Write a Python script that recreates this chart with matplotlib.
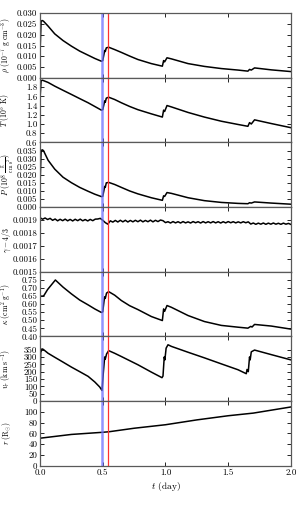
import numpy as np
import matplotlib
matplotlib.use("Agg")
import matplotlib.pyplot as plt
from matplotlib.ticker import FormatStrFormatter

plt.rcParams['font.family'] = 'serif'
plt.rcParams['font.serif'] = ['cmr10', 'DejaVu Serif']
plt.rcParams['mathtext.fontset'] = 'cm'
plt.rcParams['axes.formatter.use_mathtext'] = True
plt.rcParams['font.size'] = 6.4

# ---------------- data ----------------
rho_t = [0.0, 0.008, 0.016, 0.027, 0.064, 0.117, 0.183, 0.25, 0.316, 0.383, 0.436, 0.489,
         0.50, 0.515, 0.52, 0.528, 0.547, 0.595, 0.648, 0.714, 0.78, 0.887, 0.975,
         0.985, 0.993, 1.012, 1.047, 1.18, 1.31, 1.445, 1.578, 1.657, 1.67, 1.684, 1.71,
         1.843, 2.0]
rho = [0.0120, 0.0262, 0.0266, 0.0263, 0.0240, 0.0204, 0.0173, 0.0147, 0.0124, 0.0105, 0.0090, 0.0077,
       0.0080, 0.0127, 0.0122, 0.0139, 0.0142, 0.0131, 0.0118, 0.0101, 0.0085, 0.0066, 0.0054,
       0.0080, 0.0074, 0.0093, 0.0088, 0.0066, 0.0053, 0.0043, 0.0036, 0.0031, 0.0039, 0.0036, 0.0046,
       0.0037, 0.0029]

T_t = rho_t
T = [1.56, 1.93, 1.95, 1.94, 1.90, 1.82, 1.73, 1.64, 1.55, 1.46, 1.38, 1.30,
     1.31, 1.50, 1.47, 1.56, 1.58, 1.53, 1.46, 1.38, 1.31, 1.22, 1.15,
     1.30, 1.27, 1.40, 1.37, 1.25, 1.15, 1.06, 0.99, 0.95, 1.03, 1.00, 1.09,
     1.01, 0.92]

P_t = rho_t
P = [0.0141, 0.0340, 0.0355, 0.0350, 0.0290, 0.0235, 0.0185, 0.0151, 0.0122, 0.0098, 0.0080, 0.0065,
     0.0067, 0.0128, 0.0122, 0.0150, 0.0153, 0.0140, 0.0122, 0.0100, 0.0082, 0.0058, 0.0042,
     0.0070, 0.0066, 0.0090, 0.0085, 0.0058, 0.0040, 0.0029, 0.0023, 0.0021, 0.0027, 0.0025, 0.0032,
     0.0025, 0.0018]

gam_t = np.linspace(0.0, 2.0, 101)
gam = [0.001918, 0.001906, 0.001916, 0.001904, 0.001913, 0.001898, 0.001908, 0.001894, 0.001906, 0.001895,
       0.001907, 0.001894, 0.001905, 0.001893, 0.001906, 0.001895, 0.001907, 0.001894, 0.001904, 0.001893,
       0.001905, 0.001895, 0.001907, 0.001908, 0.001913, 0.001898, 0.001880, 0.001868, 0.001894, 0.001884,
       0.001897, 0.001885, 0.001898, 0.001886, 0.001898, 0.001885, 0.001897, 0.001886, 0.001898, 0.001887,
       0.001899, 0.001886, 0.001897, 0.001887, 0.001899, 0.001886, 0.001898, 0.001888, 0.001900, 0.001895,
       0.001880, 0.001887, 0.001877, 0.001888, 0.001878, 0.001887, 0.001877, 0.001888, 0.001878, 0.001886,
       0.001877, 0.001888, 0.001879, 0.001887, 0.001877, 0.001888, 0.001878, 0.001887, 0.001878, 0.001888,
       0.001878, 0.001887, 0.001877, 0.001887, 0.001878, 0.001888, 0.001879, 0.001887, 0.001878, 0.001886,
       0.001878, 0.001887, 0.001879, 0.001886, 0.001869, 0.001877, 0.001867, 0.001876, 0.001868, 0.001877,
       0.001867, 0.001876, 0.001868, 0.001877, 0.001868, 0.001875, 0.001867, 0.001876, 0.001868, 0.001874,
       0.001866]

kap_t = [0.0, 0.015, 0.03, 0.06, 0.122, 0.183, 0.25, 0.316, 0.383, 0.436, 0.489,
         0.50, 0.51, 0.515, 0.52, 0.53, 0.547, 0.595, 0.648, 0.714, 0.78, 0.887, 0.975,
         0.985, 0.993, 1.012, 1.047, 1.18, 1.31, 1.445, 1.578, 1.657, 1.68, 1.69, 1.71,
         1.843, 2.0]
kap = [0.652, 0.648, 0.652, 0.690, 0.749, 0.705, 0.663, 0.625, 0.595, 0.570, 0.548,
       0.552, 0.620, 0.645, 0.635, 0.668, 0.677, 0.655, 0.622, 0.590, 0.566, 0.523, 0.498,
       0.570, 0.555, 0.591, 0.580, 0.529, 0.492, 0.468, 0.457, 0.451, 0.462, 0.458, 0.474,
       0.464, 0.445]

v_t = [0.0, 0.005, 0.015, 0.025, 0.064, 0.117, 0.183, 0.25, 0.316, 0.383, 0.436, 0.475, 0.494,
       0.505, 0.515, 0.52, 0.53, 0.547, 0.595, 0.648, 0.714, 0.78, 0.887, 0.972,
       0.98, 0.99, 0.995, 1.005, 1.02, 1.047, 1.18, 1.31, 1.445, 1.578, 1.644,
       1.65, 1.66, 1.67, 1.675, 1.684, 1.71, 1.843, 2.0]
v = [20, 330, 355, 352, 325, 298, 265, 231, 200, 168, 130, 96, 72,
     200, 300, 285, 320, 343, 325, 303, 275, 247, 197, 159,
     170, 300, 280, 360, 383, 372, 332, 294, 253, 213, 186,
     215, 200, 300, 280, 335, 347, 316, 280]

r_t = [0.0, 0.25, 0.5, 0.55, 0.75, 1.0, 1.25, 1.5, 1.7, 2.0]
r = [51, 58, 62, 63, 69.5, 76, 85, 92.7, 97.6, 109]

t_blue = 0.495
t_red = 0.545

ylabels = [r'$\rho\ (10^{-7}\ {\rm g\ cm^{-3}})$',
           r'$T\ (10^{5}\ {\rm K})$',
           r'$P\ (10^{8}\ \frac{\rm g}{\rm cm\ s^{2}})$',
           r'$\gamma - 4/3$',
           r'$\kappa\ ({\rm cm^{2}\ g^{-1}})$',
           r'$v_r\ ({\rm km\ s^{-1}})$',
           r'$r\ ({\rm R_{\odot}})$']
yticks = [[0.000, 0.005, 0.010, 0.015, 0.020, 0.025, 0.030],
          [0.6, 0.8, 1.0, 1.2, 1.4, 1.6, 1.8],
          [0.000, 0.005, 0.010, 0.015, 0.020, 0.025, 0.030, 0.035],
          [0.0015, 0.0016, 0.0017, 0.0018, 0.0019],
          [0.40, 0.45, 0.50, 0.55, 0.60, 0.65, 0.70, 0.75],
          [0, 50, 100, 150, 200, 250, 300, 350],
          [0, 20, 40, 60, 80, 100]]
ylims = [(0.0, 0.030), (0.6, 2.0), (0.0, 0.040), (0.0015, 0.0020),
         (0.40, 0.80), (0, 440), (0, 120)]
yfmts = ['%.3f', '%.1f', '%.3f', '%.4f', '%.2f', '%d', '%d']
label_x = [-0.106, -0.106, -0.097, -0.106, -0.106, -0.106, -0.106]
xticks = [0.0, 0.5, 1.0, 1.5, 2.0]

series = [(rho_t, rho), (T_t, T), (P_t, P), (gam_t, gam), (kap_t, kap), (v_t, v), (r_t, r)]

# ---------------- figure ----------------
fig, axes = plt.subplots(7, 1, sharex=True, figsize=(2.99, 5.07), dpi=100,
                         gridspec_kw=dict(hspace=0))
fig.subplots_adjust(left=0.134, right=0.973, top=0.974, bottom=0.0815)

for ax, (xs, ys), lab, tk, lim, fmt, lx in zip(axes, series, ylabels, yticks, ylims, yfmts, label_x):
    ax.plot(xs, ys, color='k', lw=1.1)
    ax.axvline(t_blue, color='#6f6fff', lw=1.8, alpha=0.75)
    ax.axvline(t_red, color='#ff3030', lw=0.9)
    ax.set_ylim(*lim)
    ax.set_yticks(tk)
    ax.yaxis.set_major_formatter(FormatStrFormatter(fmt))
    ax.set_ylabel(lab, fontsize=5.6)
    ax.yaxis.set_label_coords(lx, 0.5)
    ax.tick_params(direction='in', top=True, right=True, length=3, width=0.6,
                   labelsize=6.4, pad=2)
    for s in ax.spines.values():
        s.set_color('0.35')
        s.set_linewidth(0.9)

axes[-1].set_xlim(0, 2.0)
axes[-1].set_xticks(xticks)
axes[-1].xaxis.set_major_formatter(FormatStrFormatter('%.1f'))
axes[-1].set_xlabel(r'$t$ (day)', fontsize=6.8, labelpad=2)

fig.savefig('out.png', dpi=100)
